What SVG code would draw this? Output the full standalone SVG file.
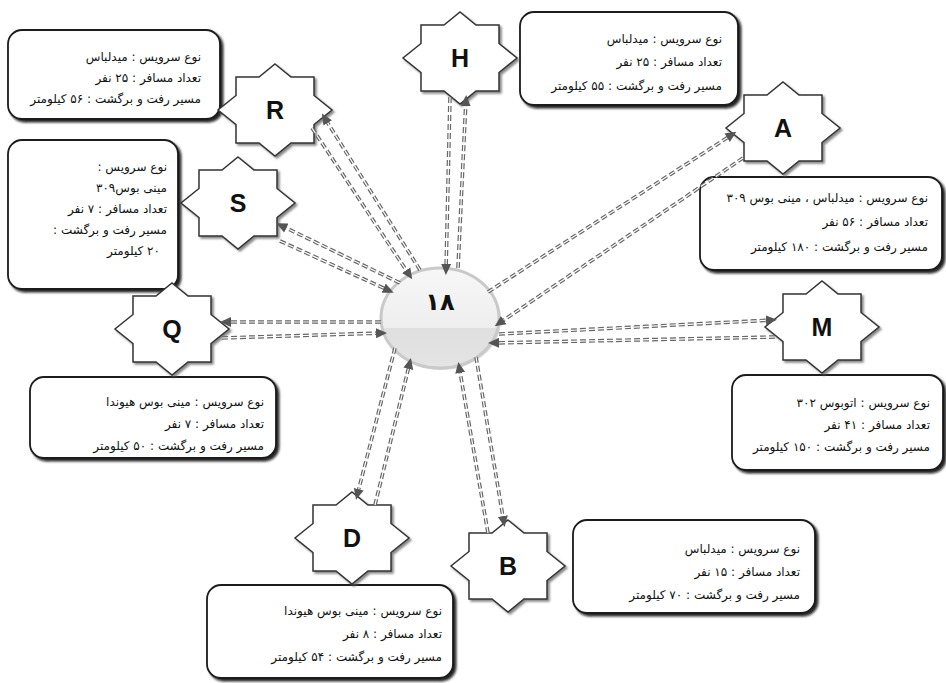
<svg xmlns="http://www.w3.org/2000/svg" width="946" height="683" viewBox="0 0 946 683">
<style>
.box{fill:#fff;stroke:#1a1a1a;stroke-width:1.8;filter:url(#sh)}
.star{fill:#fff;stroke:#333;stroke-width:1.5;filter:url(#sh2)}
.lt{font-family:"Liberation Sans",Arial,sans-serif;font-weight:bold;font-size:25px;fill:#111;text-anchor:middle}
.fa{font-family:"DejaVu Sans",sans-serif;font-size:12px;fill:#111;direction:rtl;text-anchor:start}
.c{fill:none;stroke:#666;stroke-width:3.6;stroke-dasharray:6 3}
.ci{fill:none;stroke:#fff;stroke-width:1.2;stroke-dasharray:6 3}
</style>
<defs>
<filter id="sh" x="-10%" y="-10%" width="130%" height="130%"><feDropShadow dx="2.5" dy="2.5" stdDeviation="1.2" flood-color="#111" flood-opacity="0.9"/></filter>
<filter id="sh2" x="-10%" y="-10%" width="130%" height="130%"><feDropShadow dx="2" dy="2" stdDeviation="1" flood-color="#555" flood-opacity="0.7"/></filter>
<polygon id="st" class="star" points="0,-46 16,-33 39,-33 39,-14.5 57,0 39,14.5 39,33 16,33 0,46 -16,33 -39,33 -39,14.5 -57,0 -39,-14.5 -39,-33 -16,-33"/>
<marker id="ah" viewBox="0 -6 12 12" refX="7" refY="0" markerWidth="12" markerHeight="12" markerUnits="userSpaceOnUse" orient="auto"><path d="M0,-5 L11,0 L0,5 z" fill="#555"/></marker>
<clipPath id="up"><rect x="370" y="250" width="140" height="78"/></clipPath>
<linearGradient id="g1" x1="0" y1="0" x2="0" y2="1"><stop offset="0" stop-color="#f7f7f7"/><stop offset="1" stop-color="#e8e8e8"/></linearGradient>
<linearGradient id="g2" x1="0" y1="0" x2="0" y2="1"><stop offset="0" stop-color="#d8d8d8"/><stop offset="1" stop-color="#e4e4e4"/></linearGradient>
</defs>
<rect width="946" height="683" fill="#fff"/>

<g id="boxes">
<g id="box-R"><rect class="box" x="8" y="30" width="212" height="89" rx="14"/>
<text class="fa" x="201" y="61">نوع سرویس : میدلباس</text>
<text class="fa" x="201" y="82">تعداد مسافر : ۲۵ نفر</text>
<text class="fa" x="201" y="103">مسیر رفت و برگشت : ۵۶ کیلومتر</text></g>
<g id="box-H"><rect class="box" x="520" y="12" width="218" height="93" rx="14"/>
<text class="fa" x="722" y="43">نوع سرویس : میدلباس</text>
<text class="fa" x="722" y="66">تعداد مسافر : ۲۵ نفر</text>
<text class="fa" x="722" y="90">مسیر رفت و برگشت : ۵۵ کیلومتر</text></g>
<g id="box-A"><rect class="box" x="700" y="177" width="242" height="93" rx="14"/>
<text class="fa" x="928" y="202">نوع سرویس : میدلباس ، مینی بوس ۳۰۹</text>
<text class="fa" x="928" y="226">تعداد مسافر : ۵۶ نفر</text>
<text class="fa" x="928" y="251">مسیر رفت و برگشت : ۱۸۰ کیلومتر</text></g>
<g id="box-S"><rect class="box" x="8" y="140" width="170" height="149" rx="14"/>
<text class="fa" x="167" y="171">نوع سرویس :</text>
<text class="fa" x="167" y="192">مینی بوس۳۰۹</text>
<text class="fa" x="167" y="213">تعداد مسافر : ۷ نفر</text>
<text class="fa" x="167" y="234">مسیر رفت و برگشت :</text>
<text class="fa" x="160" y="255">۲۰ کیلومتر</text></g>
<g id="box-Q"><rect class="box" x="30" y="377" width="246" height="81" rx="14"/>
<text class="fa" x="264" y="406">نوع سرویس : مینی بوس هیوندا</text>
<text class="fa" x="264" y="428">تعداد مسافر : ۷ نفر</text>
<text class="fa" x="264" y="450">مسیر رفت و برگشت : ۵۰ کیلومتر</text></g>
<g id="box-M"><rect class="box" x="732" y="375" width="211" height="95" rx="14"/>
<text class="fa" x="930" y="407">نوع سرویس : اتوبوس ۳۰۲</text>
<text class="fa" x="930" y="429">تعداد مسافر : ۴۱ نفر</text>
<text class="fa" x="930" y="451">مسیر رفت و برگشت : ۱۵۰ کیلومتر</text></g>
<g id="box-B"><rect class="box" x="573" y="520" width="242" height="93" rx="14"/>
<text class="fa" x="800" y="553">نوع سرویس : میدلباس</text>
<text class="fa" x="800" y="576">تعداد مسافر : ۱۵ نفر</text>
<text class="fa" x="800" y="599">مسیر رفت و برگشت : ۷۰ کیلومتر</text></g>
<g id="box-D"><rect class="box" x="207" y="585" width="246" height="93" rx="14"/>
<text class="fa" x="442" y="615">نوع سرویس : مینی بوس هیوندا</text>
<text class="fa" x="442" y="638">تعداد مسافر : ۸ نفر</text>
<text class="fa" x="442" y="661">مسیر رفت و برگشت : ۵۴ کیلومتر</text></g>
</g>

<g id="nodes">
<g id="node-R"><use href="#st" x="275" y="110"/><text class="lt" x="275" y="119">R</text></g>
<g id="node-H"><use href="#st" x="460" y="58"/><text class="lt" x="460" y="67">H</text></g>
<g id="node-A"><use href="#st" x="783" y="128"/><text class="lt" x="783" y="137">A</text></g>
<g id="node-S"><use href="#st" x="238" y="203"/><text class="lt" x="238" y="212">S</text></g>
<g id="node-Q"><use href="#st" x="172" y="329"/><text class="lt" x="172" y="338">Q</text></g>
<g id="node-M"><use href="#st" x="822" y="327"/><text class="lt" x="822" y="336">M</text></g>
<g id="node-D"><use href="#st" x="352" y="538"/><text class="lt" x="352" y="547">D</text></g>
<g id="node-B"><use href="#st" x="508" y="566"/><text class="lt" x="508" y="575">B</text></g>
<g id="node-18">
<ellipse cx="441" cy="320" rx="60" ry="50" fill="#000" opacity="0.15"/>
<ellipse cx="440" cy="318" rx="59" ry="50" fill="url(#g2)"/>
<ellipse cx="440" cy="318" rx="59" ry="50" fill="url(#g1)" clip-path="url(#up)"/>
<ellipse cx="440" cy="318" rx="59" ry="50" fill="none" stroke="#c9c9c9" stroke-width="3"/>
<text x="440" y="310" font-family="DejaVu Sans,sans-serif" font-weight="bold" font-size="24" fill="#111" text-anchor="middle">۱۸</text>
</g>
</g>

<g id="connectors">
<path class="c" d="M420,270 L324,117"/><path class="ci" d="M420,270 L324,117" marker-end="url(#ah)"/>
<path class="c" d="M312,128 L410,276"/><path class="ci" d="M312,128 L410,276" marker-end="url(#ah)"/>
<path class="c" d="M458,268 L466,99"/><path class="ci" d="M458,268 L466,99" marker-end="url(#ah)"/>
<path class="c" d="M450,97 L446,271"/><path class="ci" d="M450,97 L446,271" marker-end="url(#ah)"/>
<path class="c" d="M488,292 L733,134"/><path class="ci" d="M488,292 L733,134" marker-end="url(#ah)"/>
<path class="c" d="M743,158 L498,324"/><path class="ci" d="M743,158 L498,324" marker-end="url(#ah)"/>
<path class="c" d="M400,283 L280,225"/><path class="ci" d="M400,283 L280,225" marker-end="url(#ah)"/>
<path class="c" d="M280,241 L390,291"/><path class="ci" d="M280,241 L390,291" marker-end="url(#ah)"/>
<path class="c" d="M381,322 L224,322"/><path class="ci" d="M381,322 L224,322" marker-end="url(#ah)"/>
<path class="c" d="M222,338 L383,333"/><path class="ci" d="M222,338 L383,333" marker-end="url(#ah)"/>
<path class="c" d="M499,334 L773,320"/><path class="ci" d="M499,334 L773,320" marker-end="url(#ah)"/>
<path class="c" d="M775,337 L492,343"/><path class="ci" d="M775,337 L492,343" marker-end="url(#ah)"/>
<path class="c" d="M395,348 L357,496"/><path class="ci" d="M395,348 L357,496" marker-end="url(#ah)"/>
<path class="c" d="M375,505 L410,362"/><path class="ci" d="M375,505 L410,362" marker-end="url(#ah)"/>
<path class="c" d="M476,357 L504,523"/><path class="ci" d="M476,357 L504,523" marker-end="url(#ah)"/>
<path class="c" d="M488,533 L459,366"/><path class="ci" d="M488,533 L459,366" marker-end="url(#ah)"/>
</g>
</svg>
